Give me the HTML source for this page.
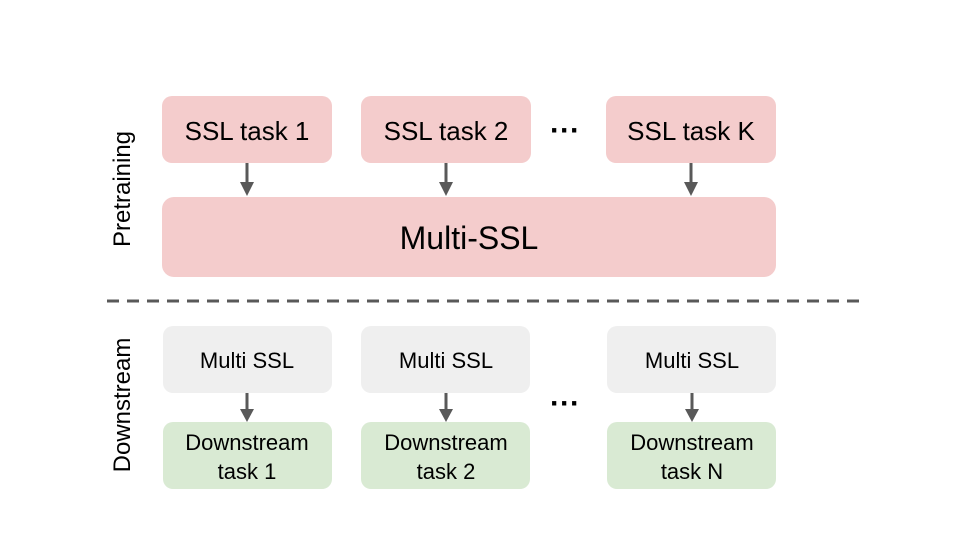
<!DOCTYPE html>
<html><head><style>body{margin:0;background:#fff}</style></head><body>
<svg width="960" height="540" xmlns="http://www.w3.org/2000/svg" font-family="Liberation Sans, sans-serif">
<rect width="960" height="540" fill="#fff"/>
<g fill="#f4cccc">
<rect x="162" y="96" width="170" height="67" rx="10"/>
<rect x="361" y="96" width="170" height="67" rx="10"/>
<rect x="606" y="96" width="170" height="67" rx="10"/>
<rect x="162" y="197" width="614" height="80" rx="12"/>
</g>
<g font-size="26" text-anchor="middle" fill="#000">
<text x="247" y="140">SSL task 1</text>
<text x="446" y="140">SSL task 2</text>
<text x="691" y="140">SSL task K</text>
<text x="469" y="249" font-size="32">Multi-SSL</text>
<text x="565" y="140" font-size="30" font-weight="bold">···</text>
<text x="565" y="413" font-size="30" font-weight="bold">···</text>
</g>
<g fill="#efefef">
<rect x="163" y="326" width="169" height="67" rx="10"/>
<rect x="361" y="326" width="169" height="67" rx="10"/>
<rect x="607" y="326" width="169" height="67" rx="10"/>
</g>
<g fill="#d9ead3">
<rect x="163" y="422" width="169" height="67" rx="10"/>
<rect x="361" y="422" width="169" height="67" rx="10"/>
<rect x="607" y="422" width="169" height="67" rx="10"/>
</g>
<g font-size="22" text-anchor="middle" fill="#000">
<text x="247" y="368">Multi SSL</text>
<text x="446" y="368">Multi SSL</text>
<text x="692" y="368">Multi SSL</text>
<text x="247" y="450">Downstream</text><text x="247" y="479">task 1</text>
<text x="446" y="450">Downstream</text><text x="446" y="479">task 2</text>
<text x="692" y="450">Downstream</text><text x="692" y="479">task N</text>
</g>
<g stroke="#595959" stroke-width="3">
<line x1="247" y1="163" x2="247" y2="183"/>
<line x1="446" y1="163" x2="446" y2="183"/>
<line x1="691" y1="163" x2="691" y2="183"/>
<line x1="247" y1="393" x2="247" y2="411"/>
<line x1="446" y1="393" x2="446" y2="411"/>
<line x1="692" y1="393" x2="692" y2="411"/>
<line x1="107" y1="301" x2="866" y2="301" stroke-dasharray="12,8"/>
</g>
<g fill="#595959">
<polygon points="240,182 254,182 247,196"/>
<polygon points="439,182 453,182 446,196"/>
<polygon points="684,182 698,182 691,196"/>
<polygon points="240,409 254,409 247,422"/>
<polygon points="439,409 453,409 446,422"/>
<polygon points="685,409 699,409 692,422"/>
</g>
<g font-size="24" text-anchor="middle" fill="#000">
<text transform="translate(130,189) rotate(-90)">Pretraining</text>
<text transform="translate(130,405) rotate(-90)">Downstream</text>
</g>
</svg>
</body></html>
